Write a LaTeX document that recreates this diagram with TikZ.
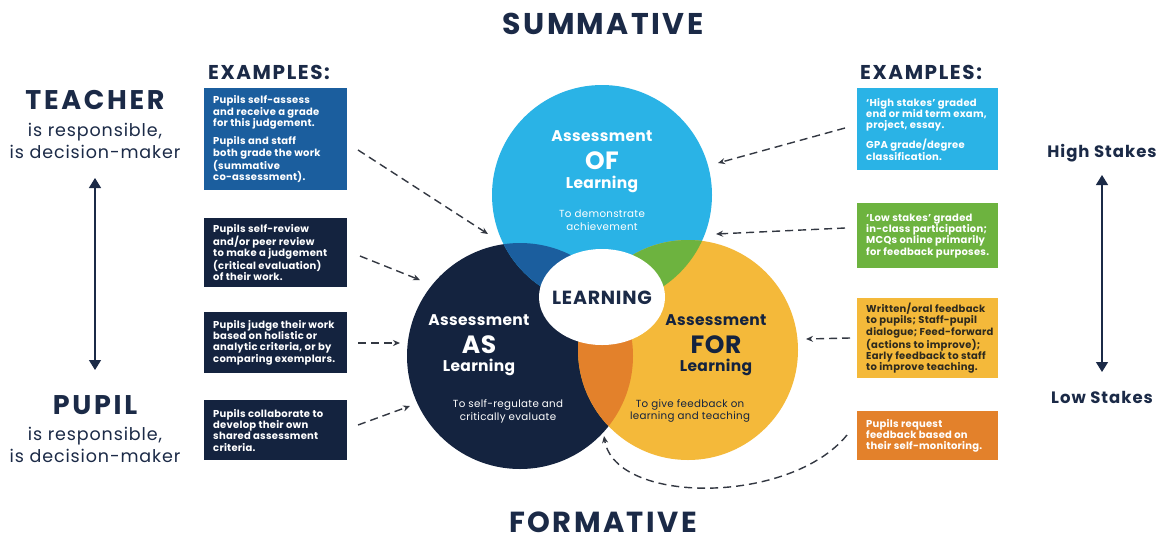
\documentclass[tikz,border=0pt]{standalone}
\usepackage{fontspec}
\setmainfont{Poppins}
\usetikzlibrary{arrows.meta,shapes.geometric}
\definecolor{navy}{HTML}{14233F}
\definecolor{headc}{HTML}{1B2A47}
\definecolor{skyb}{HTML}{2AB3E6}
\definecolor{midb}{HTML}{1B5E9E}
\definecolor{yel}{HTML}{F4B93A}
\definecolor{grn}{HTML}{6DB33F}
\definecolor{org}{HTML}{E3812B}
\definecolor{ytext}{HTML}{2E2A1E}
\definecolor{dashc}{HTML}{333842}
\newcommand\lsp[1]{\addfontfeature{LetterSpace=#1}}
\begin{document}
\begin{tikzpicture}[x=1pt,y=-1pt,
  box/.style={anchor=north west, inner sep=0pt},
  btxt/.style={anchor=west, inner sep=0pt, xshift=9pt, align=left, font=\bfseries\fontsize{10}{11.3}\selectfont\lsp{2.5}, text=white},
  dasharrow/.style={dashc, line width=1.4pt, dash pattern=on 8pt off 5pt, -{Stealth[length=7pt,width=6pt]}},
  bigarrow/.style={headc, line width=1.3pt, {Triangle[length=10pt,width=12pt]}-{Triangle[length=10pt,width=12pt]}},
  head/.style n args={2}{font=\bfseries\fontsize{#1}{#1}\selectfont\lsp{#2}, text=headc, inner sep=1pt},
  sub/.style={font=\fontsize{17.5}{22}\selectfont\lsp{5}, text=headc, align=center},
  ctitle/.style={font=\bfseries\fontsize{15.5}{16}\selectfont\lsp{2}},
  cbig/.style={font=\bfseries\fontsize{25}{26}\selectfont\lsp{2}},
  csmall/.style={font=\fontsize{10.3}{12.8}\selectfont\lsp{3}, align=center}
]
\useasboundingbox (0,0) rectangle (1167,542);
\fill[white] (0,0) rectangle (1167,542);

% circles
\node[circle, fill=navy, minimum size=226pt, inner sep=0pt] (as) at (520,356) {};
\node[circle, fill=skyb, minimum size=220pt, inner sep=0pt] (of) at (602,195) {};
\node[circle, fill=yel, minimum size=220pt, inner sep=0pt] (for) at (688,350) {};
\begin{scope}
  \clip (602,195) circle[radius=110pt];
  \fill[midb] (520,356) circle[radius=113pt];
  \fill[grn] (688,350) circle[radius=110pt];
\end{scope}
\begin{scope}
  \clip (520,356) circle[radius=113pt];
  \fill[org] (688,350) circle[radius=110pt];
\end{scope}
\node[ellipse, fill=white, minimum width=126pt, minimum height=96pt, inner sep=0pt] (learn) at (602,297) {};
\node[head={19}{4}] at (602,298) {LEARNING};

% circle texts
\node[ctitle, text=white] (ofa) at (602,136) {Assessment};
\node[cbig, text=white] (ofb) at (602,161) {OF};
\node[ctitle, text=white] (ofc) at (602,184) {Learning};
\node[csmall, text=white] (ofd) at (602,220) {To demonstrate\\achievement};

\node[ctitle, text=white] (asa) at (479,320) {Assessment};
\node[cbig, text=white] (asb) at (479,345) {AS};
\node[ctitle, text=white] (asc) at (479,367) {Learning};
\node[csmall, text=white] (asd) at (508,411) {To self-regulate and\\critically evaluate};

\node[ctitle, text=navy] (fora) at (716,320) {Assessment};
\node[cbig, text=navy] (forb) at (716,345) {FOR};
\node[ctitle, text=navy] (forc) at (716,367) {Learning};
\node[csmall, text=navy] (ford) at (690,411) {To give feedback on\\learning and teaching};

% headings
\node[head={30}{8}, anchor=base] (summ) at (603,34) {SUMMATIVE};
\node[head={29}{8.5}, anchor=base] (form) at (603,532) {FORMATIVE};
\node[head={20}{8}] (exl) at (269,72) {EXAMPLES:};
\node[head={20}{8}] (exr) at (921,72) {EXAMPLES:};

\node[head={27}{10}] (teacher) at (95,100) {TEACHER};
\node[sub] (tsub) at (95,141) {is responsible,\\is decision-maker};
\node[head={27}{10}] (pupil) at (95,405) {PUPIL};
\node[sub] (psub) at (95,445) {is responsible,\\is decision-maker};
\draw[bigarrow] (95,178) -- (95,370);

\node[head={16.5}{6}] (high) at (1102,153) {High Stakes};
\node[head={16.5}{6}] (low) at (1102,397) {Low Stakes};
\draw[bigarrow] (1102,175) -- (1102,372);

% left boxes
\node[box, fill=midb, minimum width=143pt, minimum height=102pt] (l1) at (204,88) {};
\node[btxt] (l1t) at (l1.west) {Pupils self-assess\\and receive a grade\\for this judgement.\\[7pt]Pupils and staff\\both grade the work\\(summative\\co-assessment).};
\node[box, fill=navy, minimum width=143pt, minimum height=69pt] (l2) at (204,218) {};
\node[btxt] (l2t) at (l2.west) {Pupils self-review\\and/or peer review\\to make a judgement\\(critical evaluation)\\of their work.};
\node[box, fill=navy, minimum width=143pt, minimum height=61pt] (l3) at (204,312) {};
\node[btxt] (l3t) at (l3.west) {Pupils judge their work\\based on holistic or\\analytic criteria, or by\\comparing exemplars.};
\node[box, fill=navy, minimum width=143pt, minimum height=60pt] (l4) at (204,400) {};
\node[btxt] (l4t) at (l4.west) {Pupils collaborate to\\develop their own\\shared assessment\\criteria.};

% right boxes
\node[box, fill=skyb, minimum width=141pt, minimum height=82pt] (r1) at (857,88) {};
\node[btxt] (r1t) at (r1.west) {`High stakes' graded\\end or mid term exam,\\project, essay.\\[7pt]GPA grade/degree\\classification.};
\node[box, fill=grn, minimum width=141pt, minimum height=65pt] (r2) at (857,203) {};
\node[btxt] (r2t) at (r2.west) {`Low stakes' graded\\in-class participation;\\MCQs online primarily\\for feedback purposes.};
\node[box, fill=yel, minimum width=141pt, minimum height=80pt] (r3) at (857,298) {};
\node[btxt, text=ytext] (r3t) at (r3.west) {Written/oral feedback\\to pupils; Staff-pupil\\dialogue; Feed-forward\\(actions to improve);\\Early feedback to staff\\to improve teaching.};
\node[box, fill=org, minimum width=141pt, minimum height=49pt] (r4) at (857,411) {};
\node[btxt] (r4t) at (r4.west) {Pupils request\\feedback based on\\their self-monitoring.};

% arrow coordinates
\coordinate (s1) at (358,150); \coordinate (t1) at (488,234);
\coordinate (s2) at (360,256); \coordinate (t2) at (420,280);
\coordinate (s3) at (358,343); \coordinate (t3) at (400,343);
\coordinate (s4) at (358,425); \coordinate (t4) at (410,406);
\coordinate (u1) at (845,128); \coordinate (v1) at (718,163);
\coordinate (u2) at (845,228); \coordinate (v2) at (716,234);
\coordinate (u3) at (850,338); \coordinate (v3) at (806,339);
\coordinate (u4) at (847,435); \coordinate (v4) at (604,436);

\draw[dasharrow] (s1) -- (t1);
\draw[dasharrow] (s2) -- (t2);
\draw[dasharrow] (s3) -- (t3);
\draw[dasharrow] (s4) -- (t4);
\draw[dasharrow] (u1) -- (v1);
\draw[dasharrow] (u2) -- (v2);
\draw[dasharrow] (u3) -- (v3);
\draw[dasharrow] (u4) .. controls (790,505) and (615,505) .. (v4);
\end{tikzpicture}
\end{document}
